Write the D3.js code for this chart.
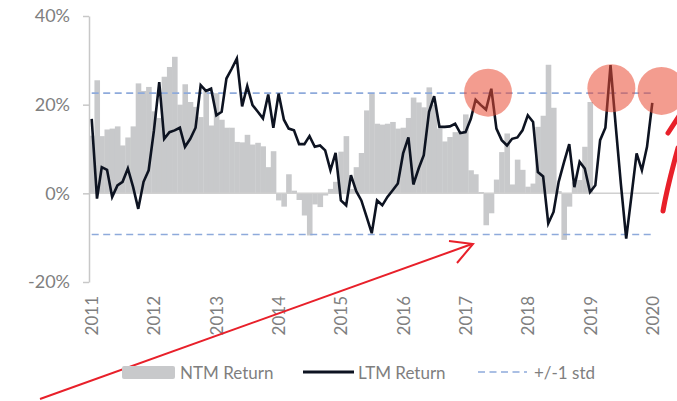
<!DOCTYPE html>
<html>
<head>
<meta charset="utf-8">
<script src="https://cdnjs.cloudflare.com/ajax/libs/d3/7.8.5/d3.min.js"></script>
<style>
  body { margin: 0; background: #fff; }
  text { font-family: Lato, "Open Sans", sans-serif; fill: #7f7f7f; }
</style>
</head>
<body>
<div id="chart"></div>
<script>
var width = 677;
var height = 401;

// NTM return (next twelve months), monthly from Jan 2011, in %
var ntmReturn = [
  13, 25.5, 12.9, 14.4, 14.6, 15.1, 10.8, 12.6, 15.1, 24.8, 23.1, 24.0,
  18.5, 17, 26.3, 28.5, 30.8, 20.0, 24.6, 20.6, 19.5, 17.2, 23.1, 15.3,
  22.6, 16.6, 14.8, 14.8, 11.6, 11.5, 13.2, 11.0, 11.4, 10.6, 5.9, 9.5,
  -1.6, -3.0, 4.3, 0.6, -1.5, -5.0, -9.5, -2.5, -3.1, -0.5, 1.0, 2.6,
  9.4, 12.9, 1.0, 5.9, 9.1, 18.7, 22.4, 15.7, 15.5, 15.7, 16.1, 14.6,
  14.8, 17.0, 21.6, 20.5, 19.4, 23.9, 20.0, 14.6, 11.7, 12.7, 13.8, 13.8,
  17.8, 5.2, 4.3, 0.3, -7.2, -4.5, 3.1, 9.3, 13.5, 2.0, 7.6, 5.3,
  1.5, 2.2, 15.0, 17.5, 29.0, 19.3, 0.5, -10.5, -3.0, 2.5, 3.0, 10.5,
  20.6
];

// LTM return (last twelve months), monthly from Jan 2011, in %
var ltmReturn = [
  16.8, -1.2, 5.9, 5.3, -0.8, 1.8, 2.6, 5.6, 1.4, -3.5, 2.6, 5.2,
  14.2, 25.1, 12.3, 13.8, 14.2, 14.8, 10.5, 12.3, 14.8, 24.4, 23.1, 23.6,
  17.6, 18.4, 25.9, 28.1, 30.4, 19.6, 24.2, 19.9, 18.4, 16.9, 22.3, 14.8,
  22.5, 16.6, 14.6, 14.2, 11.1, 11.1, 12.9, 10.5, 10.8, 9.7, 5.2, 9.1,
  -1.6, -2.7, 4.1, 0.5, -1.6, -5.3, -9.0, -1.6, -2.7, -0.8, 0.7, 2.2,
  9.0, 12.6, 2.0, 5.6, 8.6, 18.4, 21.9, 15.0, 15.0, 15.1, 15.7, 13.6,
  13.8, 16.8, 21.1, 19.9, 18.9, 23.6, 14.6, 12.0, 10.8, 12.3, 12.6, 14.2,
  17.6, 16.1, 4.8, 3.8, -6.8, -4.2, 2.6, 7.0, 11.1, 1.4, 7.1, 5.6,
  0.3, 1.8, 12.0, 14.8, 28.9, 15.0, 2.0, -10.2, -0.5, 9.0, 5.2, 10.5,
  20.4
];

var stdBands = [22.6, -9.3];          // +/-1 std
var yTicks = [-20, 0, 20, 40];
var legendLabels = ["NTM Return", "LTM Return", "+/-1 std"];

// highlighted peaks (date, value)
var highlights = [
  ["2017-05-13", 22.7],
  ["2019-05-06", 23.7],
  ["2020-02-24", 23.1]
];

var startDate = new Date(2011, 0, 1);
function monthDate(i) { return d3.timeMonth.offset(startDate, i); }

var ntm = ntmReturn.map(function (v, i) { return {date: monthDate(i), value: v}; });
var ltm = ltmReturn.map(function (v, i) { return {date: monthDate(i), value: v}; });

var svg = d3.select("#chart").append("svg")
    .attr("width", width)
    .attr("height", height);

var x = d3.scaleTime()
    .domain([startDate, new Date(2020, 0, 1)])
    .range([91.7, 652.3]);

var y = d3.scaleLinear()
    .domain([-20, 40])
    .range([282, 16]);

/* bars */
svg.append("g").selectAll("rect")
    .data(ntm)
    .enter().append("rect")
    .attr("x", function (d) { return x(d3.timeDay.offset(d.date, -15)); })
    .attr("width", function (d) { return x(d3.timeDay.offset(d.date, 16)) - x(d3.timeDay.offset(d.date, -15)) + 0.3; })
    .attr("y", function (d) { return y(Math.max(0, d.value)); })
    .attr("height", function (d) { return Math.abs(y(d.value) - y(0)); })
    .attr("fill", "#c8c9cb");

/* zero line */
svg.append("line")
    .attr("x1", 89).attr("x2", x(new Date(2020, 1, 10)))
    .attr("y1", y(0)).attr("y2", y(0))
    .attr("stroke", "#d0d0d0")
    .attr("stroke-width", 1.5);

/* y axis */
var yAxis = svg.append("g")
    .attr("transform", "translate(89,0)")
    .call(d3.axisLeft(y).tickValues(yTicks).tickSize(6).tickSizeOuter(0).tickPadding(13)
        .tickFormat(function (d) { return d + "%"; }));
yAxis.select(".domain").attr("stroke", "#c8c8c8").attr("stroke-width", 1.5);
yAxis.selectAll(".tick line").attr("stroke", "#c8c8c8").attr("stroke-width", 1.5);
yAxis.selectAll(".tick text")
    .style("font-family", "Lato, sans-serif")
    .attr("font-size", 18)
    .attr("fill", "#7f7f7f");

/* x axis, rotated year labels */
var xAxis = svg.append("g")
    .attr("transform", "translate(0,282)")
    .call(d3.axisBottom(x).ticks(d3.timeYear.every(1)).tickSize(0)
        .tickFormat(d3.timeFormat("%Y")));
xAxis.select(".domain").remove();
xAxis.selectAll(".tick text")
    .attr("transform", "rotate(-90)")
    .attr("x", -14)
    .attr("y", 0)
    .attr("dy", "0.35em")
    .style("text-anchor", "end")
    .style("font-family", "Lato, sans-serif")
    .attr("font-size", 17)
    .attr("fill", "#7f7f7f");

/* std lines */
svg.append("g").selectAll("line")
    .data(stdBands)
    .enter().append("line")
    .attr("x1", x(startDate)).attr("x2", x(new Date(2020, 0, 1)))
    .attr("y1", function (d) { return y(d); })
    .attr("y2", function (d) { return y(d); })
    .attr("stroke", "#8eaadb")
    .attr("stroke-width", 1.6)
    .attr("stroke-dasharray", "7,4.5");

/* LTM line */
var line = d3.line()
    .x(function (d) { return x(d.date); })
    .y(function (d) { return y(d.value); });

svg.append("path")
    .datum(ltm)
    .attr("d", line)
    .attr("fill", "none")
    .attr("stroke", "#0d1321")
    .attr("stroke-width", 2.6)
    .attr("stroke-linejoin", "miter");

/* highlight circles */
svg.append("g").selectAll("circle")
    .data(highlights)
    .enter().append("circle")
    .attr("cx", function (d) { return x(new Date(d[0])); })
    .attr("cy", function (d) { return y(d[1]); })
    .attr("r", 24)
    .attr("fill", "#ea4a33")
    .attr("fill-opacity", 0.55);

/* red hand-drawn arrows */
svg.append("line")
    .attr("x1", 40).attr("y1", 399)
    .attr("x2", 472).attr("y2", 244)
    .attr("stroke", "#e8202a").attr("stroke-width", 2);
svg.append("path")
    .attr("d", "M449,241 L473,244 L457,263")
    .attr("fill", "none")
    .attr("stroke", "#e8202a").attr("stroke-width", 2);
svg.append("path")
    .attr("d", "M663,211 Q667,188 678,148")
    .attr("fill", "none")
    .attr("stroke", "#e8202a").attr("stroke-width", 5)
    .attr("stroke-linecap", "round");
svg.append("path")
    .attr("d", "M668,133 L679,116")
    .attr("fill", "none")
    .attr("stroke", "#e8202a").attr("stroke-width", 5)
    .attr("stroke-linecap", "round");

/* legend */
var legend = svg.append("g").attr("transform", "translate(0,373)");
legend.append("rect")
    .attr("x", 122).attr("y", -7)
    .attr("width", 53).attr("height", 13)
    .attr("rx", 2)
    .attr("fill", "#c8c9cb");
legend.append("line")
    .attr("x1", 303).attr("x2", 354)
    .attr("y1", -1).attr("y2", -1)
    .attr("stroke", "#0d1321").attr("stroke-width", 3);
legend.append("line")
    .attr("x1", 478).attr("x2", 527)
    .attr("y1", -1).attr("y2", -1)
    .attr("stroke", "#8eaadb").attr("stroke-width", 1.6)
    .attr("stroke-dasharray", "7,4.5");

var legendX = [180, 358, 534];
legend.selectAll("text.lbl")
    .data(legendLabels)
    .enter().append("text")
    .attr("class", "lbl")
    .attr("x", function (d, i) { return legendX[i]; })
    .attr("y", 0)
    .attr("dy", "0.35em")
    .attr("font-size", 17)
    .text(function (d) { return d; });
</script>
</body>
</html>
